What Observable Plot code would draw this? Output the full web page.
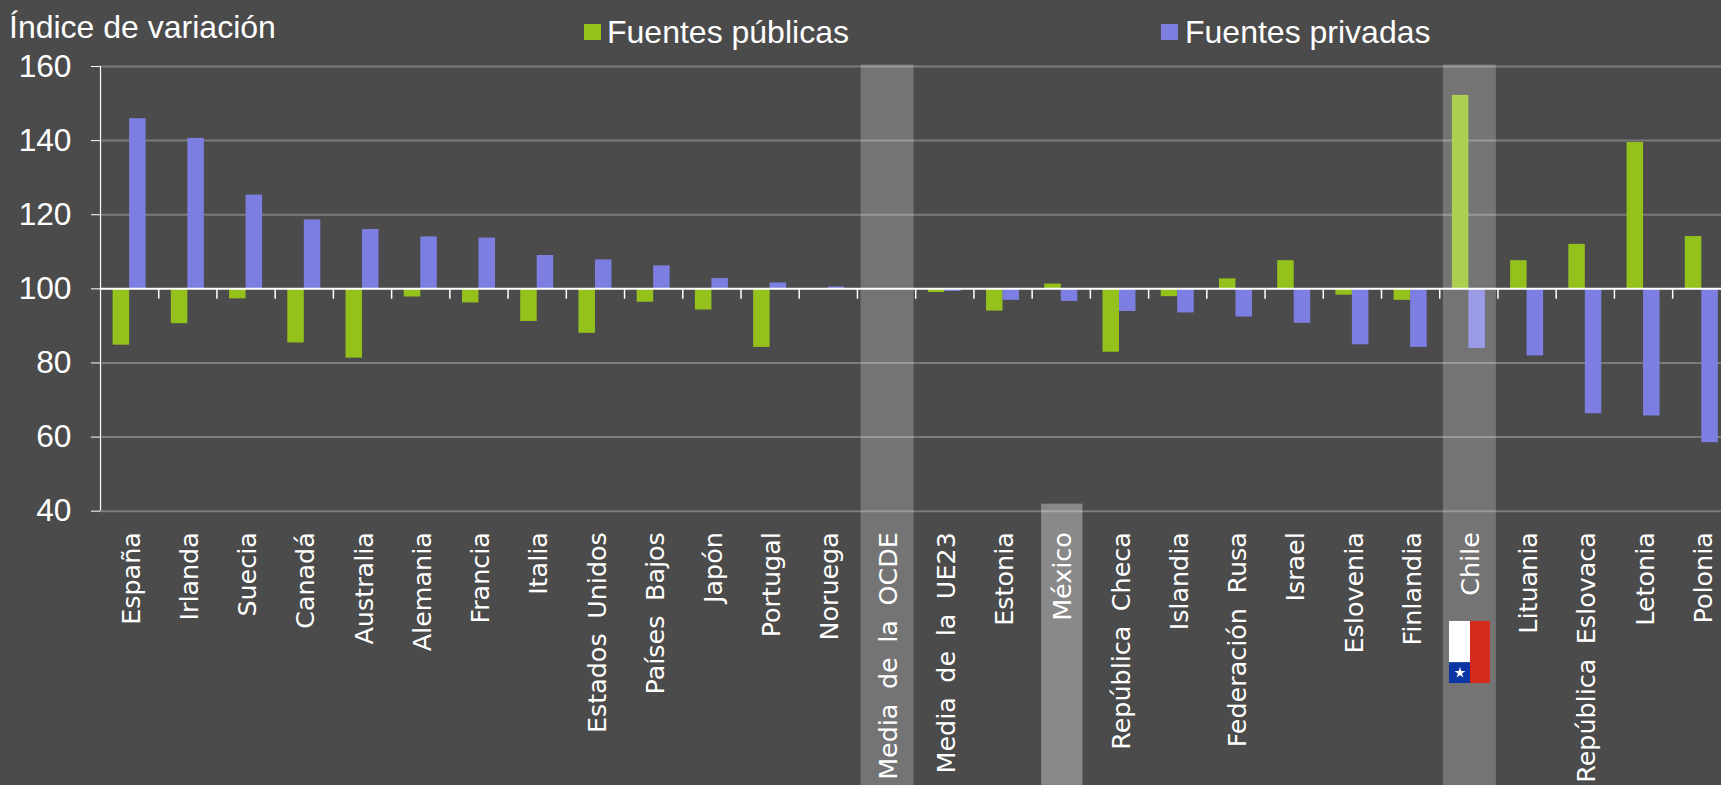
<!DOCTYPE html>
<html lang="es">
<head>
<meta charset="utf-8">
<script src="https://cdn.jsdelivr.net/npm/d3@7"></script>
<script src="https://cdn.jsdelivr.net/npm/@observablehq/plot@0.6"></script>
<style>
html,body{margin:0;padding:0;background:#4b4b4b;overflow:hidden}
#head{position:relative;height:36px;font:32px "Liberation Sans",Arial,sans-serif;color:#fff}
#head span{position:absolute;white-space:nowrap;line-height:36px}
#head i{position:absolute;display:block;width:17px;height:16px;top:24px}
svg{display:block}
svg [aria-label="x-axis tick label"]{word-spacing:6.5px}
</style>
</head>
<body>
<div id="head">
  <span style="left:9px;top:9px">Índice de variación</span>
  <i style="left:584px;background:#94c11c"></i><span style="left:607px;top:14px">Fuentes públicas</span>
  <i style="left:1161px;background:#7c7fe1"></i><span style="left:1185px;top:14px">Fuentes privadas</span>
</div>
<div id="chart"></div>
<script>
const paises = ["España","Irlanda","Suecia","Canadá","Australia","Alemania","Francia","Italia","Estados Unidos","Países Bajos","Japón","Portugal","Noruega","Media de la OCDE","Media de la UE23","Estonia","México","República Checa","Islandia","Federación Rusa","Israel","Eslovenia","Finlandia","Chile","Lituania","República Eslovaca","Letonia","Polonia"];
const publicas = [84.8,90.6,97.3,85.4,81.3,97.8,96.2,91.2,88,96.4,94.3,84.2,100,100.1,99,94,101.3,82.9,97.9,102.7,107.6,98.3,96.9,152.2,107.6,112,139.5,114.1];
const privadas = [145.9,140.6,125.3,118.6,116,114,113.7,109,107.8,106.2,102.8,101.6,100.5,100.1,99.3,96.9,96.6,93.9,93.5,92.4,90.7,84.9,84.2,83.9,81.9,66.3,65.7,58.5];
const yTicks = [40,60,80,100,120,140,160];
const destacadosOscuros = ["Media de la OCDE","Chile"];
const destacadoClaro = ["México"];

const verde = "#94c11c", violeta = "#7c7fe1";
const filas = paises.map((p,i)=>({p,pub:publicas[i],priv:privadas[i]}));
const bajo = -34; // value of the page bottom on the y scale

const plot = Plot.plot({
  width:1721, height:749,
  marginTop:30, marginBottom:274.3, marginLeft:100, marginRight:0,
  style:{background:"transparent",color:"#fff",overflow:"hidden"},
  x:{domain:paises, range:[100,1730.4], paddingInner:.7166, paddingOuter:.3583, round:false, label:null},
  y:{domain:[40,160], label:null},
  marks:[
    Plot.ruleY(yTicks.filter(d=>d!==100),{stroke:"#fff",strokeOpacity:.27,strokeWidth:2}),
    Plot.barY(filas,{x:"p",y1:()=>100,y2:"pub",fill:verde,dx:-8.25}),
    Plot.barY(filas,{x:"p",y1:()=>100,y2:"priv",fill:violeta,dx:8.25}),
    Plot.barY(destacadosOscuros,{x:d=>d,y1:()=>160.4,y2:()=>bajo,fill:"#fff",fillOpacity:.233,insetLeft:-18.25,insetRight:-18.25,dx:1}),
    Plot.barY(destacadoClaro,{x:d=>d,y1:()=>41.9,y2:()=>bajo,fill:"#fff",fillOpacity:.35,insetLeft:-12.4,insetRight:-12.4,dx:1}),
    Plot.ruleY([100],{stroke:"#fff",strokeWidth:2}),
    Plot.ruleX(paises,{x:d=>d,y1:()=>100,y2:()=>97.2,stroke:"#fff",strokeWidth:1.5,dx:29.1}),
    Plot.ruleX([0],{x:()=>paises[0],y1:()=>160,y2:()=>40,stroke:"#fff",strokeWidth:1.2,dx:-29.1}),
    Plot.axisY({ticks:yTicks,tickSize:9,tickPadding:20,stroke:"#fff",fill:"#fff",fontSize:31.7,fontFamily:"Liberation Sans",tickFormat:d=>String(d),label:null}),
    Plot.axisX({tickSize:0,tickPadding:21,tickRotate:-90,fill:"#fff",fontSize:25.4,fontFamily:"DejaVu Sans",label:null,dx:2}),
    Plot.barY(["Chile"],{x:d=>d,y1:()=>10.25,y2:()=>-0.9,fill:"#ffffff",insetLeft:-11.15,insetRight:6.65}),
    Plot.barY(["Chile"],{x:d=>d,y1:()=>-0.9,y2:()=>-6.5,fill:"#0b37a6",insetLeft:-11.15,insetRight:6.65}),
    Plot.barY(["Chile"],{x:d=>d,y1:()=>10.25,y2:()=>-6.5,fill:"#d52b1e",insetLeft:9.85,insetRight:-13.35}),
    Plot.dot(["Chile"],{x:d=>d,y:()=>-3.6,symbol:"star",r:3.4,fill:"#fff",dx:-8.9})
  ]
});
document.getElementById("chart").append(plot);
</script>
</body>
</html>
